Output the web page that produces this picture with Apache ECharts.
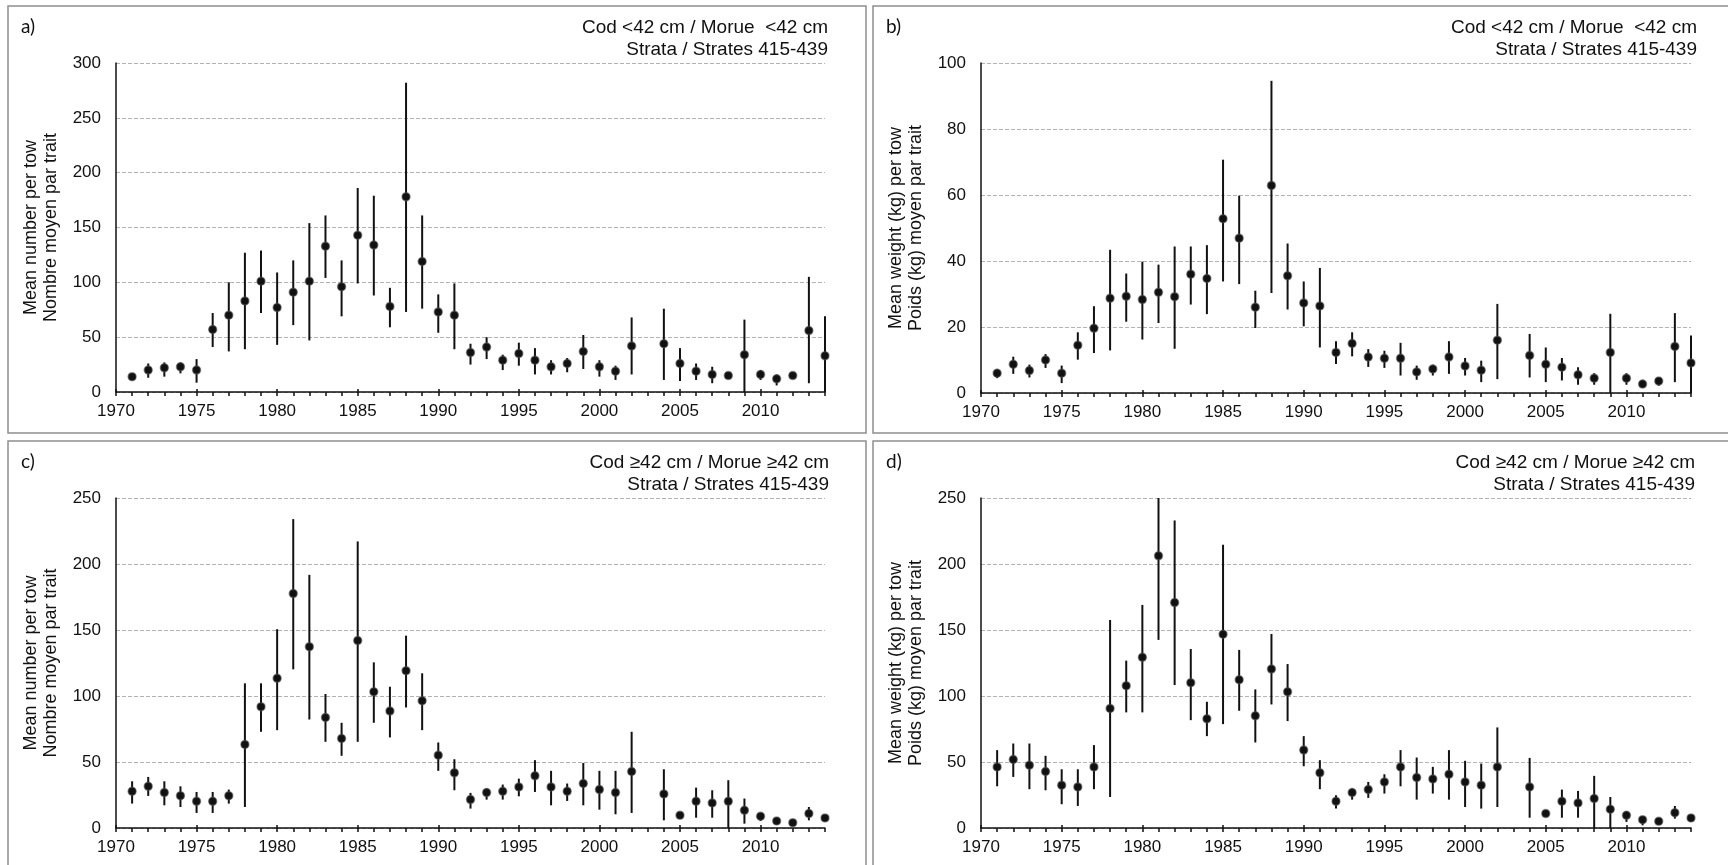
<!DOCTYPE html>
<html>
<head>
<meta charset="utf-8">
<title>Cod 415-439</title>
<script src="https://cdn.jsdelivr.net/npm/echarts@6/dist/echarts.min.js"></script>
<style>
html, body { margin: 0; padding: 0; background: #fff; }
#chart_main { width: 1728px; height: 865px; }
</style>
</head>
<body>
<div id="chart_main"></div>
<script type="text/javascript">
// years (no survey point in 2003)
var years = [1971,1972,1973,1974,1975,1976,1977,1978,1979,1980,1981,1982,1983,1984,1985,1986,1987,1988,1989,1990,
	1991,1992,1993,1994,1995,1996,1997,1998,1999,2000,2001,2002,
	2004,2005,2006,2007,2008,2009,2010,2011,2012,2013,2014];

// a) number per tow, cod <42 cm
var aMean = [14,20,22,23,20,57,70,83,101,77,91,101,133,96,143,134,78,178,119,73,
	70,36,41,29,35,29,23,26,37,23,19,42,
	44,26,19,16,15,34,16,12,15,56,33];
var aLow = [12,13,14,17,8.5,41,37,39,72,43,61,47,104,69,99,88,59,73,76,54,
	39,25,30,20,24,16,16,18,21,14,11,16,
	11,10,11,8,12,0,11,6,12,8,0];
var aHigh = [16,26,27,27,30,72,100,127,129,109,120,154,161,120,186,179,95,282,161,89,
	99,44,50,34,45,40,29,31,52,29,24,68,
	76,40,26,23,17,66,20,16,17,105,69];

// b) weight per tow, cod <42 cm
var bMean = [6,8.7,6.8,10,6,14.5,19.6,28.7,29.3,28.3,30.5,29.2,36,34.7,52.8,46.9,26,62.9,35.5,27.3,
	26.4,12.3,15,10.9,10.5,10.5,6.4,7.3,10.9,8.2,6.9,16,
	11.4,8.7,7.8,5.5,4.5,12.3,4.5,2.7,3.6,14.1,9.1];
var bLow = [4.5,5.8,4.7,7.6,3,10.1,12.1,12.9,21.6,16.2,21.2,13.4,26.8,23.9,33.8,33,19.7,30.3,25.3,20.2,
	13.8,8.8,11.1,7.9,7.6,5.3,4,5.3,5.8,5.3,3.3,4.2,
	4.7,3.3,3.8,2.5,2.5,0,2.5,1.5,2.2,3.3,0];
var bHigh = [7.3,11,8.6,11.8,8.3,18.4,26.3,43.4,36.2,39.8,38.9,44.4,44.4,44.8,70.7,59.8,31,94.6,45.3,33.8,
	37.9,15.7,18.4,13.3,12.8,15.2,8.3,8.6,15.7,10.6,9.8,27,
	17.9,13.8,10.6,7.8,6,24,6,4,4.5,24.2,17.4];

// c) number per tow, cod >=42 cm
var cMean = [27.8,31.6,26.8,24.5,20.2,20.2,24.5,63.3,91.9,113.4,177.6,137.4,83.8,67.8,142,103.2,88.6,119.2,96.4,55.2,
	41.8,21.5,26.8,27.8,31.1,39.5,31.1,27.8,33.7,29.1,26.8,42.8,
	25.8,9.6,20.2,19,20.2,13.4,8.9,5.3,4,10.9,7.6];
var cLow = [18.5,24.3,17.2,15.9,11.4,11.4,18.5,15.9,72.9,74.1,120.2,82.2,65.3,54.7,65.3,79.7,68.6,91.3,74.1,43.3,
	28.6,14.7,21.5,21.5,24,27.3,17.2,20.5,17.2,13.9,10.4,11.4,
	5.8,8,7.8,7.8,0,3.3,5.3,3.3,2.5,5.8,5.3];
var cHigh = [35.4,38.7,35.4,31.6,27.3,27.3,29.1,109.6,109.6,150.6,234,191.8,101.5,79.7,217.1,125.5,107,145.7,117.2,64.8,
	52.1,26.6,29.9,32.9,37.4,51.4,43.3,33.7,49.3,43.3,43.3,72.9,
	44.5,11.5,30.6,28.6,36.2,22.3,11.4,7,5.5,15.9,9.6];

// d) weight per tow, cod >=42 cm
var dMean = [46.3,51.9,47.6,42.8,32.4,31.1,46.3,90.6,107.8,129.3,206.2,170.8,110.1,82.7,146.8,112.3,85,120.4,103.2,59,
	41.8,20.2,26.8,29.1,34.9,46.3,38.2,37.2,40.7,34.9,32.4,46.3,
	31.1,10.9,20.2,19,22.3,14.2,9.6,6.3,5.1,11.6,7.6];
var dLow = [31.6,38.7,29.4,28.6,18,16.7,29.4,23.5,87.6,87.6,142.5,108.3,81.7,69.6,78.7,88.8,64.8,93.6,81,46.8,
	29.4,14.7,21.5,22.8,26.1,31.6,21.5,26.1,21.5,15.9,14.7,15.9,
	7.8,9,7.8,7.8,0,0,4.6,2,3.5,7.1,5.5];
var dHigh = [59,64,64,54.7,44.5,44.5,62.8,157.6,126.8,169,250,233,135.6,95.6,214.6,134.9,105,147,124.2,69.6,
	51.4,24.8,29.9,34.9,40.7,59,53.4,46.3,59,50.9,48.8,76.2,
	53.1,12.8,29.1,28.1,39.5,23.5,12.9,8.9,6.8,16.7,9.8];

var panelLetters = ['a)', 'b)', 'c)', 'd)'];
var panelNotes = [
	'Cod <42 cm / Morue  <42 cm\nStrata / Strates 415-439',
	'Cod <42 cm / Morue  <42 cm\nStrata / Strates 415-439',
	'Cod \u226542 cm / Morue \u226542 cm\nStrata / Strates 415-439',
	'Cod \u226542 cm / Morue \u226542 cm\nStrata / Strates 415-439'
];
var yTitles = [
	'Mean number per tow\nNombre moyen par trait',
	'Mean weight (kg) per tow\nPoids (kg) moyen par trait',
	'Mean number per tow\nNombre moyen par trait',
	'Mean weight (kg) per tow\nPoids (kg) moyen par trait'
];
var yMax = [300, 100, 250, 250];
var yStep = [50, 20, 50, 50];
var xFrom = 1970, xTo = 2014;

var panels = [
	{mean: aMean, low: aLow, high: aHigh},
	{mean: bMean, low: bLow, high: bHigh},
	{mean: cMean, low: cLow, high: cHigh},
	{mean: dMean, low: dLow, high: dHigh}
];

// layout of the four panels
var boxes = [
	{x: 8, y: 6, w: 858, h: 427},
	{x: 873, y: 6, w: 870, h: 427},
	{x: 8, y: 441, w: 858, h: 440},
	{x: 873, y: 441, w: 870, h: 440}
];
var grids = [
	{left: 116, top: 63, width: 709, height: 329},
	{left: 981, top: 63, width: 710, height: 330},
	{left: 116, top: 498, width: 709, height: 330},
	{left: 981, top: 498, width: 710, height: 330}
];
var noteRight = [828, 1697, 829, 1695];

var labelFont = 'Liberation Sans';
var ink = '#111';

var option = {
	backgroundColor: '#fff',
	animation: false,
	grid: [],
	xAxis: [],
	yAxis: [],
	series: [],
	graphic: []
};

function errBar(params, api) {
	var x = api.value(0);
	var p1 = api.coord([x, api.value(1)]);
	var p2 = api.coord([x, api.value(2)]);
	return {
		type: 'line',
		shape: {x1: p1[0], y1: p1[1], x2: p2[0], y2: p2[1]},
		style: {stroke: ink, lineWidth: 2}
	};
}

for (var i = 0; i < 4; i++) {
	option.grid.push(grids[i]);
	// main x axis: labels every 5 years
	option.xAxis.push({
		type: 'value', gridIndex: i, position: 'bottom',
		min: xFrom, max: xTo, interval: 5,
		axisLine: {onZero: false, lineStyle: {color: ink, width: 1.5}},
		axisTick: {show: true, inside: true, length: 3, lineStyle: {color: ink, width: 1.5}},
		axisLabel: {color: ink, fontFamily: labelFont, fontSize: 17, margin: 11, showMaxLabel: false,
			formatter: function (v) { return String(v); }},
		splitLine: {show: false}
	});
	// yearly ticks
	option.xAxis.push({
		type: 'value', gridIndex: i, position: 'bottom',
		min: xFrom, max: xTo, interval: 1,
		axisLine: {show: false, onZero: false},
		axisTick: {show: true, length: 4, lineStyle: {color: ink, width: 1.5}},
		axisLabel: {show: false},
		splitLine: {show: false}
	});
	option.yAxis.push({
		type: 'value', gridIndex: i, position: 'left',
		min: 0, max: yMax[i], interval: yStep[i],
		name: yTitles[i], nameLocation: 'middle', nameRotate: 90, nameGap: 55,
		nameTextStyle: {color: ink, fontFamily: labelFont, fontSize: 18, lineHeight: 20},
		axisLine: {show: true, lineStyle: {color: ink, width: 1.5}},
		axisTick: {show: false},
		axisLabel: {color: ink, fontFamily: labelFont, fontSize: 17, margin: 15},
		splitLine: {show: true, lineStyle: {color: '#b3b3b3', width: 1, type: [4, 2]}}
	});

	var p = panels[i];
	var barData = [], dotData = [];
	for (var k = 0; k < years.length; k++) {
		barData.push([years[k], p.low[k], p.high[k]]);
		dotData.push([years[k], p.mean[k]]);
	}
	option.series.push({
		type: 'custom', xAxisIndex: 2 * i, yAxisIndex: i,
		renderItem: errBar,
		encode: {x: 0, y: [1, 2]},
		data: barData, z: 2
	});
	option.series.push({
		type: 'scatter', xAxisIndex: 2 * i, yAxisIndex: i,
		symbol: 'circle', symbolSize: 8,
		itemStyle: {color: ink, borderColor: 'rgba(80,80,80,0.55)', borderWidth: 1.5, opacity: 1},
		data: dotData, z: 3
	});

	// panel frame, letter and note
	var b = boxes[i];
	option.graphic.push({
		type: 'rect', silent: true, z: -1,
		shape: {x: b.x, y: b.y, width: b.w, height: b.h},
		style: {fill: 'none', stroke: '#8f8f8f', lineWidth: 1.5}
	});
	option.graphic.push({
		type: 'text', silent: true,
		x: b.x + 13, y: b.y + 11,
		style: {text: panelLetters[i], fill: ink, font: '19px Lato', textAlign: 'left', textVerticalAlign: 'top'}
	});
	option.graphic.push({
		type: 'text', silent: true,
		x: noteRight[i], y: b.y + 11,
		style: {text: panelNotes[i], fill: ink, fontFamily: labelFont, fontSize: 19, lineHeight: 22,
			textAlign: 'right', textVerticalAlign: 'top'}
	});
}

var myChart = echarts.init(document.getElementById('chart_main'));
myChart.setOption(option);
</script>
</body>
</html>
